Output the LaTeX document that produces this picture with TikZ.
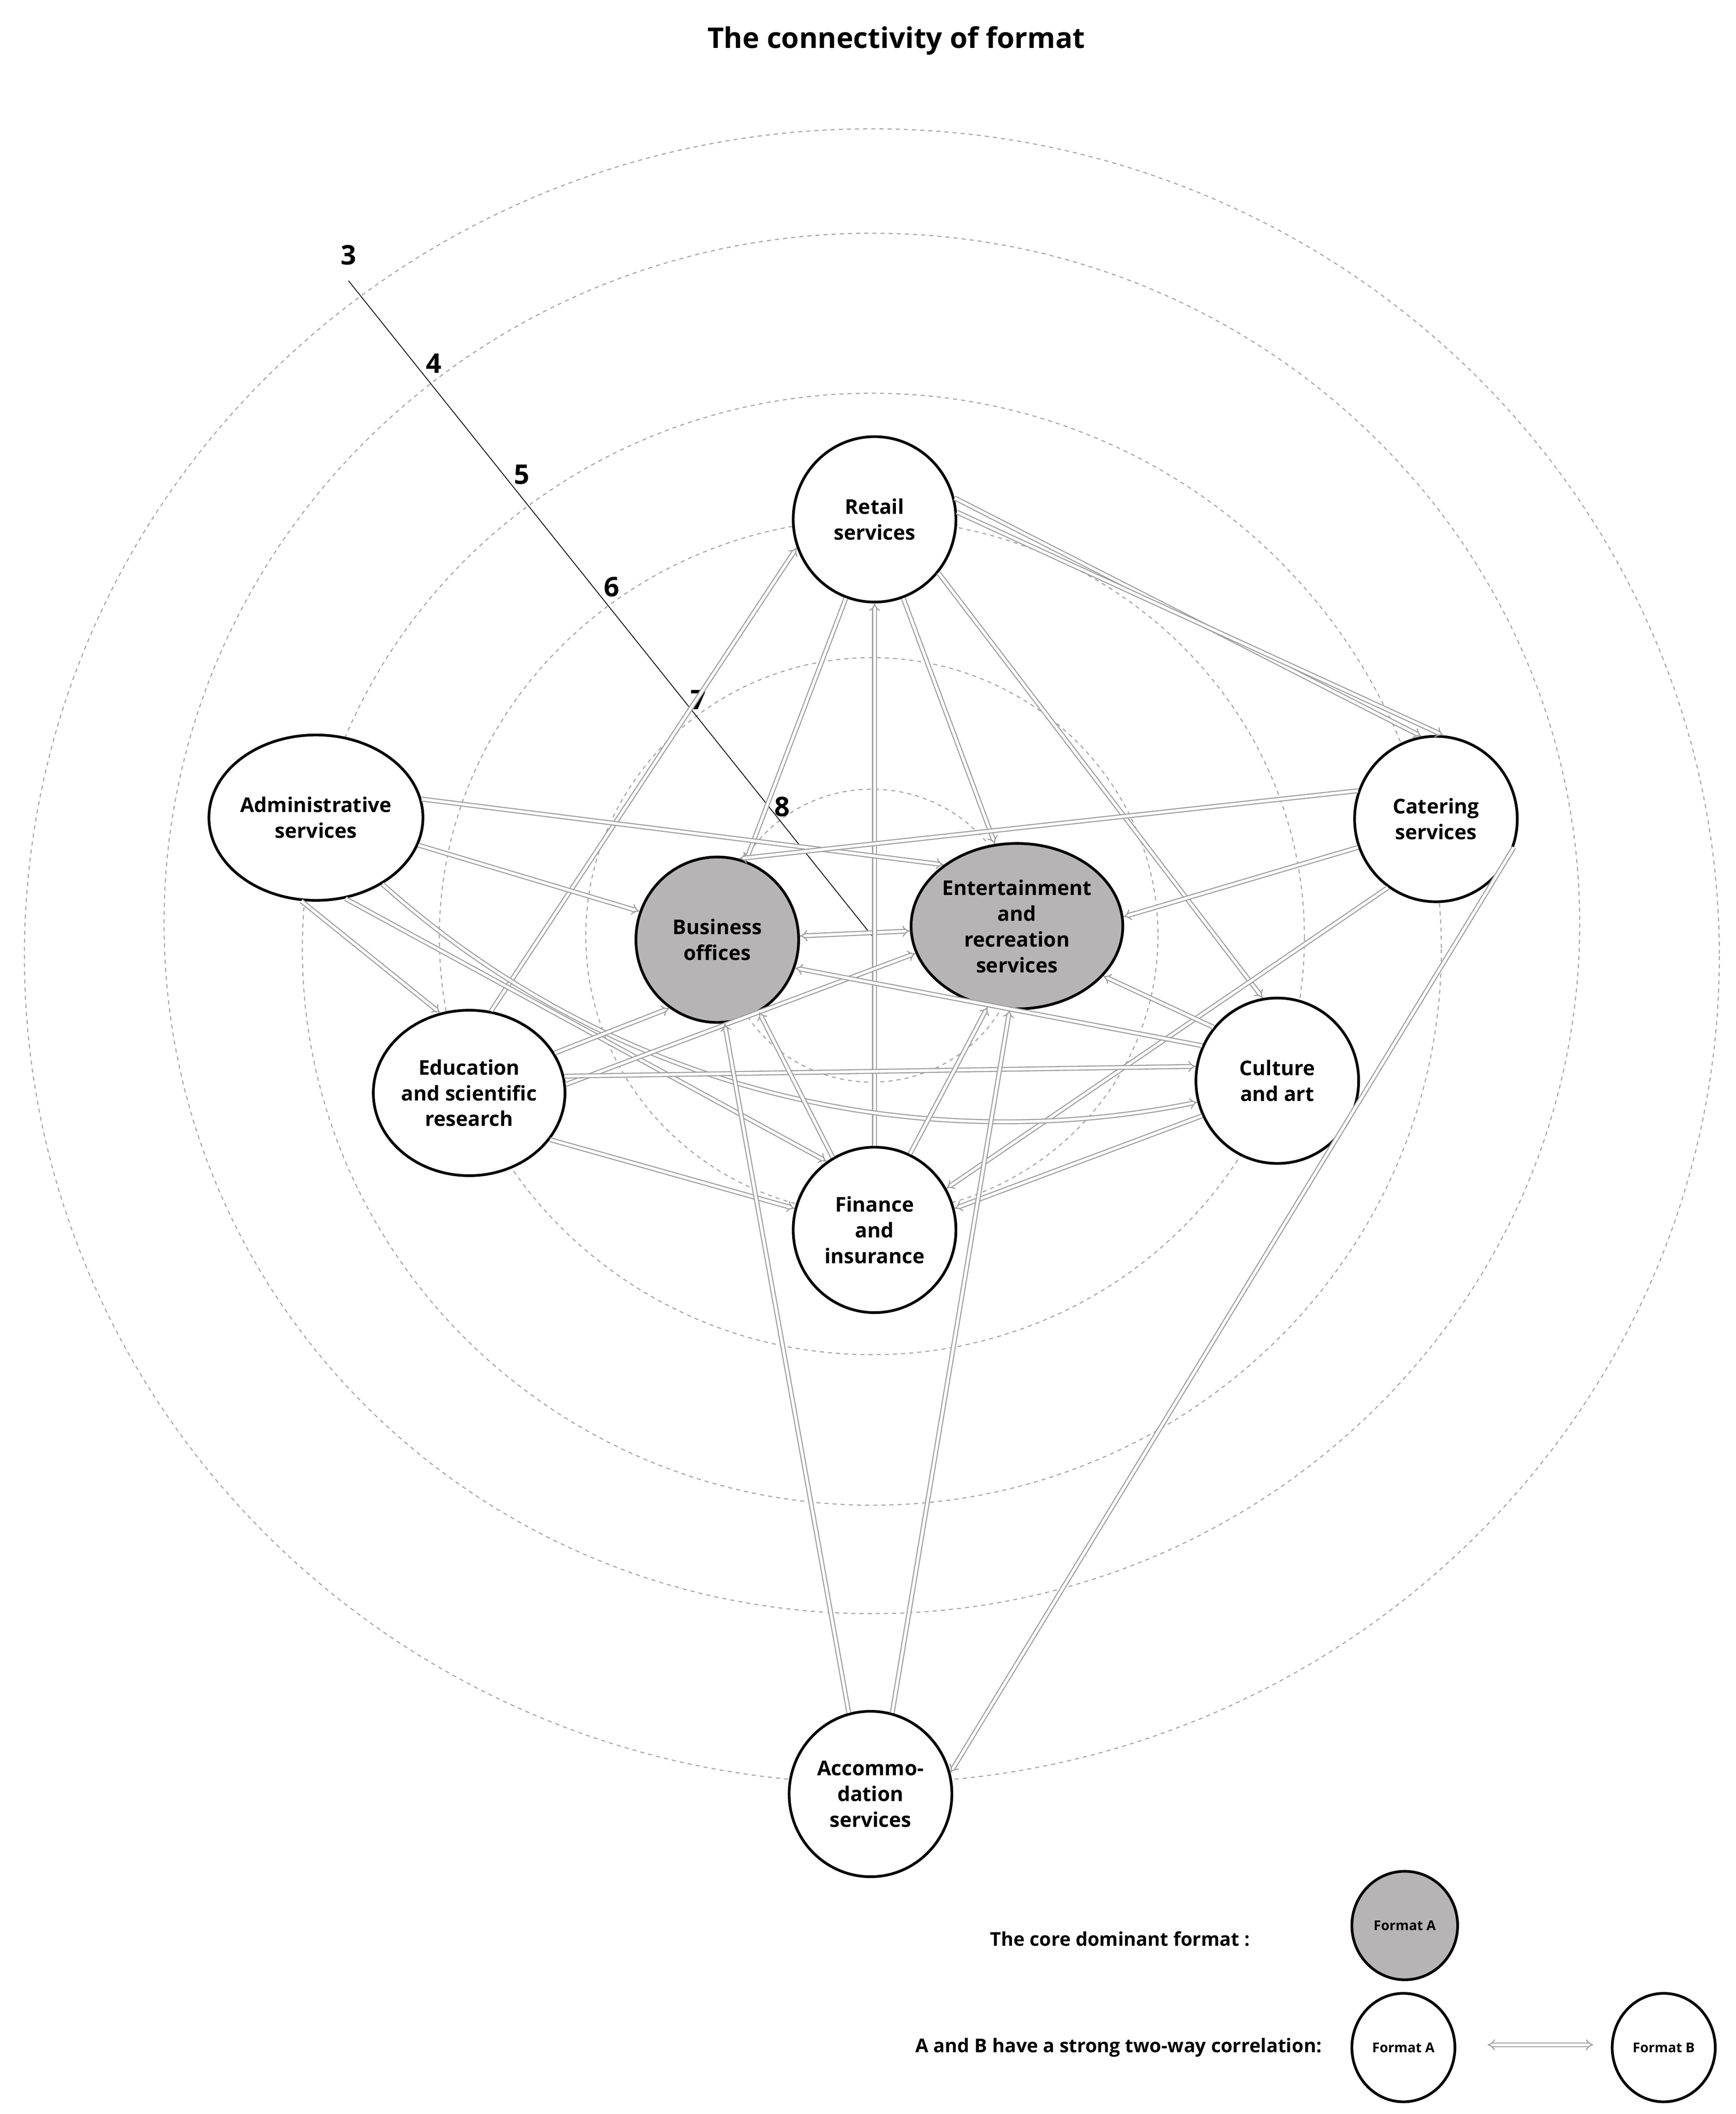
\documentclass[tikz,border=0pt]{standalone}
\usepackage{fontspec}
\setmainfont{Open Sans}
\usetikzlibrary{arrows.meta,shapes.geometric}
\begin{document}
\begin{tikzpicture}[x=1pt,y=-1pt,
  ring/.style={draw=gray!70,dashed,line width=0.8pt},
  fmt/.style={ellipse,draw=black,line width=2pt,fill=white,minimum width=120pt,minimum height=122pt,align=center,font=\bfseries\fontsize{15}{19}\selectfont,inner sep=0pt},
  core/.style={fmt,fill=gray!65!white!85!red!10!gray!60},
  lnk/.style={draw=gray!75,double=white,double distance=2pt,line width=0.8pt,-{Implies}},
  lnk2/.style={lnk,{Implies}-{Implies}},
  num/.style={font=\bfseries\fontsize{20}{22}\selectfont}]
\useasboundingbox (0,0) rectangle (1280,1559);
\node[font=\bfseries\fontsize{21}{24}\selectfont] (title) at (661,30) {The connectivity of format};
% rings
\draw[ring] (643,690) ellipse [x radius=110,y radius=108];
\draw[ring] (643,690) ellipse [x radius=211,y radius=205];
\draw[ring] (643,691) ellipse [x radius=319,y radius=308];
\draw[ring] (643,700) ellipse [x radius=420,y radius=410];
\draw[ring] (643,681) ellipse [x radius=522,y radius=509];
\draw[ring] (643,705) ellipse [x radius=625,y radius=610];
% scale line
\coordinate (c0) at (643,690);
\coordinate (c3) at (257,207);
\draw[black,line width=0.6pt] (c3) -- (c0);
\node[num] (n3) at (257,188) {3};
\node[num] (n4) at (320,268) {4};
\node[num] (n5) at (385,350) {5};
\node[num] (n6) at (451,433) {6};
\node[num] (n7) at (515,516) {7};
\node[num] (n8) at (577,595) {8};
% nodes
\node[fmt] (ret) at (645,383) {Retail\\services};
\node[fmt] (adm) at (233,603) {Administrative\\services};
\node[fmt] (cat) at (1059,604) {Catering\\services};
\node[core] (bus) at (529,693) {Business\\offices};
\node[core] (ent) at (750,683) {Entertainment\\and\\recreation\\services};
\node[fmt] (cul) at (942,797) {Culture\\and art};
\node[fmt] (edu) at (346,806) {Education\\and scientific\\research};
\node[fmt] (fin) at (645,907) {Finance\\and\\insurance};
\node[fmt] (acc) at (642,1323) {Accommo-\\dation\\services};
% links
\begin{scope}[on background layer/.style={}]
\end{scope}
\draw[lnk2] (bus) -- (ent);
\draw[lnk] (ret.250) -- (bus.70);
\draw[lnk] (ret.290) -- (ent.105);
\draw[lnk] (fin) -- (ret);
\draw[lnk] (ret.15) -- (cat.100);
\draw[lnk] (ret.5) -- (cat.85);
\draw[lnk] (ret.320) -- (cul.100);
\draw[lnk] (edu.75) -- (ret.200);
\draw[lnk] (adm.10) -- (ent.140);
\draw[lnk] (adm.345) -- (bus.160);
\draw[lnk] (cat.160) -- (bus.75);
\draw[lnk] (cat.200) -- (ent.5);
\draw[lnk] (cat.235) -- (fin.30);
\draw[lnk] (cat.340) -- (acc.15);
\draw[lnk] (adm.260) -- (edu.110);
\draw[lnk] (adm.290) -- (fin.125);
\draw[lnk] (adm.315) .. controls (470,820) and (700,850) .. (cul.195);
\draw[lnk] (edu.25) -- (bus.235);
\draw[lnk] (edu.5) -- (ent.195);
\draw[lnk] (edu.10) -- (cul.170);
\draw[lnk] (edu.330) -- (fin.165);
\draw[lnk] (cul.155) -- (bus.340);
\draw[lnk] (cul.140) -- (ent.330);
\draw[lnk] (fin.120) -- (bus.300);
\draw[lnk] (fin.65) -- (ent.250);
\draw[lnk] (cul.205) -- (fin.15);
\draw[lnk] (acc.105) -- (bus.275);
\draw[lnk] (acc.75) -- (ent.265);
% legend
\node[font=\bfseries\fontsize{14}{16}\selectfont] (l1) at (826,1430) {The core dominant format :};
\node[core,minimum width=78pt,minimum height=80pt,font=\bfseries\fontsize{10}{12}\selectfont] (la) at (1036,1420) {Format A};
\node[font=\bfseries\fontsize{14}{16}\selectfont] (l2) at (825,1510) {A and B have a strong two-way correlation:};
\node[fmt,minimum width=76pt,minimum height=80pt,font=\bfseries\fontsize{10}{12}\selectfont] (fa) at (1035,1510) {Format A};
\node[fmt,minimum width=76pt,minimum height=80pt,font=\bfseries\fontsize{10}{12}\selectfont] (fb) at (1227,1510) {Format B};
\coordinate (a1) at (1097,1508);
\coordinate (a2) at (1175,1508);
\draw[lnk2] (a1) -- (a2);
\end{tikzpicture}
\end{document}
